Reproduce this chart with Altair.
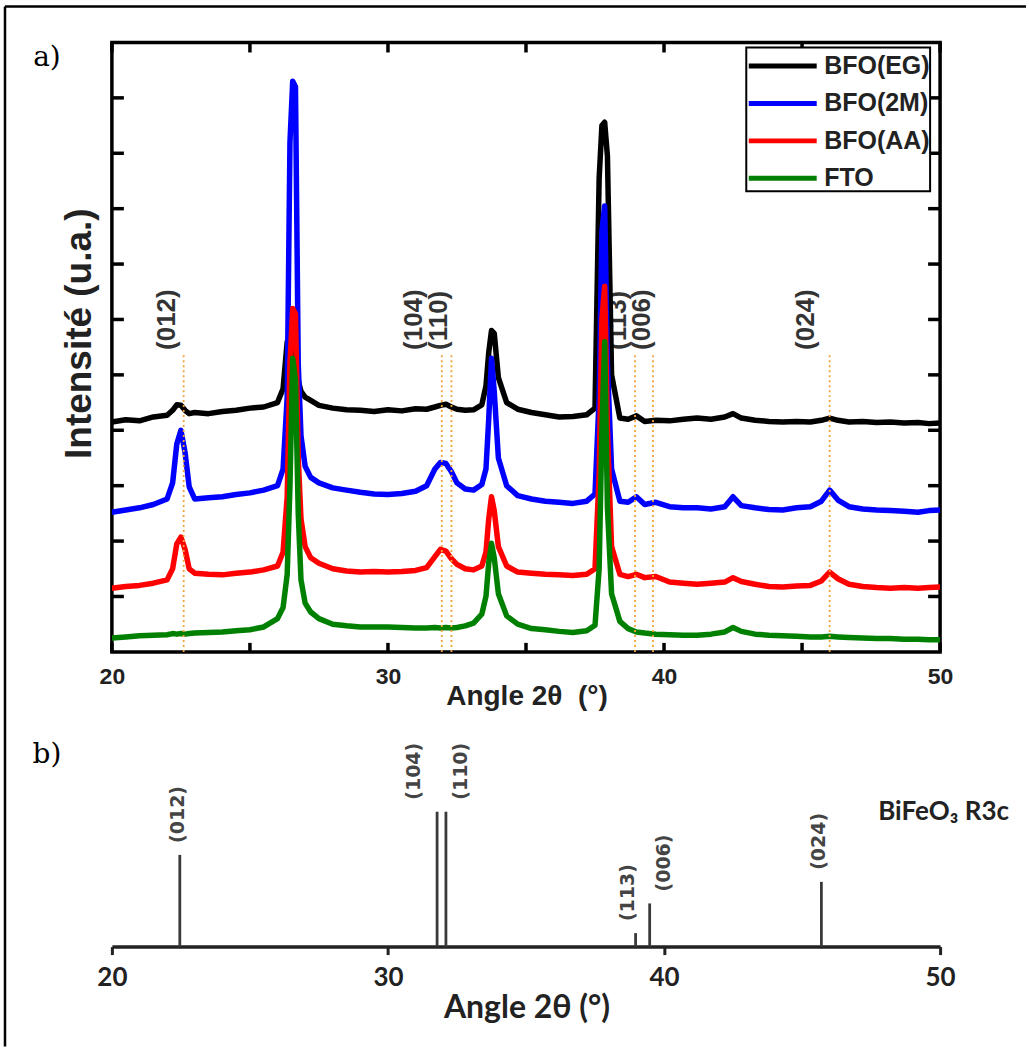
import altair as alt
import pandas as pd

# ---------------------------------------------------------------- data
# 2-theta grid shared by the four diffractograms (finer around reflections)
two_theta = [
    20.0, 20.5, 21.0, 21.5, 22.0, 22.2, 22.35, 22.5, 22.65, 22.8,
    23.0, 23.5, 24.0, 24.5, 25.0, 25.5, 26.0, 26.2, 26.35, 26.45,
    26.55, 26.65, 26.75, 26.85, 27.0, 27.2, 27.5, 28.0, 28.5, 29.0,
    29.5, 30.0, 30.5, 31.0, 31.4, 31.7, 31.9, 32.1, 32.3, 32.5,
    32.8, 33.1, 33.4, 33.55, 33.65, 33.75, 33.85, 34.0, 34.3, 34.7,
    35.2, 35.7, 36.2, 36.7, 37.2, 37.5, 37.65, 37.75, 37.85, 37.95,
    38.1, 38.4, 38.7, 39.0, 39.3, 39.7, 40.2, 40.7, 41.2, 41.7,
    42.2, 42.5, 42.8, 43.3, 43.8, 44.3, 44.8, 45.3, 45.7, 46.0,
    46.3, 46.7, 47.2, 47.7, 48.2, 48.7, 49.2, 49.6, 50.0,
]

# stacked intensities (arbitrary units, curves offset vertically)
int_eg = [
    4.15, 4.19, 4.17, 4.24, 4.27, 4.36, 4.46, 4.45, 4.36, 4.30,
    4.32, 4.30, 4.34, 4.36, 4.40, 4.42, 4.50, 4.75, 5.60, 5.62,
    5.50, 5.30, 4.90, 4.70, 4.60, 4.54, 4.45, 4.40, 4.37, 4.36,
    4.34, 4.37, 4.35, 4.39, 4.38, 4.42, 4.45, 4.47, 4.42, 4.38,
    4.36, 4.37, 4.46, 4.80, 5.40, 5.80, 5.75, 4.95, 4.50, 4.38,
    4.32, 4.28, 4.24, 4.25, 4.28, 4.40, 8.55, 9.50, 9.56, 8.95,
    5.00, 4.22, 4.20, 4.26, 4.16, 4.18, 4.17, 4.20, 4.22, 4.20,
    4.24, 4.30, 4.22, 4.18, 4.16, 4.15, 4.16, 4.15, 4.18, 4.22,
    4.18, 4.15, 4.16, 4.14, 4.15, 4.13, 4.14, 4.12, 4.13,
]
int_2m = [
    2.52, 2.56, 2.60, 2.66, 2.76, 3.05, 3.75, 4.00, 3.60, 2.98,
    2.76, 2.78, 2.80, 2.84, 2.87, 2.92, 3.00, 3.30, 4.60, 9.20,
    10.30, 10.20, 5.20, 3.90, 3.35, 3.15, 3.05, 2.96, 2.92, 2.88,
    2.85, 2.84, 2.86, 2.90, 3.00, 3.30, 3.42, 3.40, 3.25, 3.05,
    2.94, 2.92, 3.02, 3.30, 4.20, 5.30, 4.70, 3.50, 3.00, 2.82,
    2.76, 2.72, 2.70, 2.68, 2.72, 2.85, 4.60, 7.60, 8.05, 5.20,
    3.30, 2.72, 2.70, 2.80, 2.66, 2.70, 2.62, 2.60, 2.60, 2.58,
    2.62, 2.80, 2.64, 2.60, 2.57, 2.56, 2.60, 2.62, 2.72, 2.92,
    2.74, 2.62, 2.58, 2.56, 2.55, 2.54, 2.52, 2.55, 2.56,
]
int_aa = [
    1.15, 1.18, 1.20, 1.24, 1.30, 1.50, 1.95, 2.07, 1.85, 1.50,
    1.42, 1.40, 1.39, 1.42, 1.44, 1.48, 1.55, 1.80, 2.80, 5.20,
    6.20, 6.10, 3.50, 2.40, 1.90, 1.70, 1.60, 1.50, 1.46, 1.44,
    1.45, 1.44, 1.45, 1.47, 1.52, 1.72, 1.85, 1.82, 1.68, 1.58,
    1.50, 1.48, 1.55, 1.80, 2.40, 2.80, 2.55, 1.90, 1.55, 1.44,
    1.42, 1.40, 1.39, 1.38, 1.40, 1.50, 3.20, 6.00, 6.60, 4.00,
    1.90, 1.40, 1.36, 1.40, 1.34, 1.36, 1.26, 1.24, 1.22, 1.24,
    1.26, 1.34, 1.27, 1.22, 1.18, 1.17, 1.19, 1.20, 1.28, 1.44,
    1.32, 1.22, 1.18, 1.16, 1.15, 1.16, 1.15, 1.16, 1.17,
]
int_fto = [
    0.25, 0.27, 0.29, 0.30, 0.31, 0.33, 0.32, 0.33, 0.32, 0.33,
    0.34, 0.35, 0.36, 0.38, 0.40, 0.45, 0.60, 0.80, 1.40, 3.00,
    5.30, 4.90, 2.50, 1.30, 0.88, 0.72, 0.60, 0.50, 0.47, 0.45,
    0.45, 0.45, 0.44, 0.43, 0.43, 0.44, 0.43, 0.44, 0.43, 0.44,
    0.47, 0.52, 0.68, 1.00, 1.60, 1.96, 1.70, 1.05, 0.65, 0.50,
    0.42, 0.40, 0.37, 0.35, 0.38, 0.48, 1.50, 4.00, 5.60, 2.60,
    1.05, 0.55, 0.42, 0.36, 0.34, 0.32, 0.31, 0.30, 0.30, 0.32,
    0.36, 0.44, 0.37, 0.32, 0.30, 0.29, 0.28, 0.27, 0.27, 0.28,
    0.27, 0.26, 0.25, 0.24, 0.24, 0.23, 0.23, 0.22, 0.22,
]

samples = ["BFO(EG)", "BFO(2M)", "BFO(AA)", "FTO"]
sample_colors = ["#000000", "#0000ff", "#ff0000", "#008000"]

# BiFeO3 (R3c) reflections
hkl = ["(012)", "(104)", "(110)", "(113)", "(006)", "(024)"]
guide_pos = [22.6, 31.95, 32.3, 38.95, 39.6, 46.0]
guide_label_at = [22.0, 30.95, 31.85, 38.35, 39.2, 45.15]

ref_pos = [22.46, 31.78, 32.1, 38.97, 39.48, 45.7]
ref_int = [68, 100, 100, 10, 32, 48]
ref_label_at = [22.39, 30.95, 32.65, 38.68, 39.99, 45.62]
phase_label = "BiFeO\u2083 R3c"

x_tick_marks = [20, 25, 30, 35, 40, 45, 50]
x_tick_labels = [20, 30, 40, 50]
y_tick_marks = [1, 2, 3, 4, 5, 6, 7, 8, 9, 10]

# ---------------------------------------------------------------- styling
SANS = "Liberation Sans"
LATO = "Lato"
SERIF = "DejaVu Serif"
INK = "#222222"
W, HA, HB = 829, 610, 270

X_SCALE = alt.Scale(domain=[20, 50], nice=False, zero=False)
Y_SCALE_A = alt.Scale(domain=[0, 11], nice=False, zero=False)
Y_SCALE_B = alt.Scale(domain=[0, 200], nice=False, zero=False)

series = {s: v for s, v in zip(samples, [int_eg, int_2m, int_aa, int_fto])}
for s, v in series.items():
    assert len(v) == len(two_theta), s
traces = pd.DataFrame(
    [{"angle": a, "intensity": y, "sample": s}
     for s, v in series.items() for a, y in zip(two_theta, v)]
)
guides = pd.DataFrame({"pos": guide_pos, "label_at": guide_label_at, "hkl": hkl})
sticks = pd.DataFrame({"pos": ref_pos, "rel": ref_int, "label_at": ref_label_at, "hkl": hkl})
one = pd.DataFrame({"k": [0]})

# ---------------------------------------------------------------- panel a
x_axis_a = alt.Axis(
    values=x_tick_labels, format="d", title="Angle 2θ\u00a0\u00a0(°)",
    grid=False, domain=False, tickSize=0, labelFlush=False,
    labelFont=SANS, labelFontSize=23, labelFontWeight="bold", labelColor=INK,
    labelPadding=32, labelBaseline="alphabetic",
    titleFont=SANS, titleFontSize=28, titleFontWeight="bold", titleColor=INK,
    titleX=415, titleY=53, titleBaseline="alphabetic", titleAlign="center",
)
y_axis_a = alt.Axis(
    title="Intensité (u.a.)", labels=False, ticks=False, domain=False, grid=False,
    titleFont=SANS, titleFontSize=37, titleFontWeight="bold", titleColor=INK,
    titleX=-32, titleY=291, titleAngle=270, titleAlign="center", titleBaseline="middle",
)
XA = dict(scale=X_SCALE, axis=x_axis_a)
YA = dict(scale=Y_SCALE_A, axis=y_axis_a)

color = alt.Color(
    "sample:N",
    scale=alt.Scale(domain=samples, range=sample_colors),
    legend=alt.Legend(
        title=None, orient="none", legendX=635, legendY=5,
        symbolType="M-1,0H3.25", symbolSize=1024, symbolStrokeWidth=5,
        labelFont=SANS, labelFontSize=25, labelFontWeight="bold", labelColor=INK,
        labelOffset=41, rowPadding=5.5, padding=0,
        strokeColor="black", fillColor="white",
    ),
)

hkl_labels_a = alt.Chart(guides).mark_text(
    angle=270, align="left", baseline="middle",
    font=SANS, fontSize=26, fontWeight="bold", color="#333333",
).encode(
    x=alt.X("label_at:Q", **XA),
    y=alt.YDatum(5.45, **YA),
    text="hkl:N",
)

trace_layers = [
    alt.Chart(traces).transform_filter(alt.datum.sample == s)
    .mark_line(strokeWidth=5.5, strokeJoin="round", clip=True)
    .encode(
        x=alt.X("angle:Q", **XA),
        y=alt.Y("intensity:Q", **YA),
        color=color,
    )
    for s in samples
]

guide_rules = alt.Chart(guides).mark_rule(
    strokeDash=[2, 3], strokeWidth=1.8, color="#f2a33a"
).encode(
    x=alt.X("pos:Q", **XA),
    y=alt.YDatum(0, **YA),
    y2=alt.Y2Datum(5.36),
)

xt = pd.DataFrame({"t": x_tick_marks})
yt = pd.DataFrame({"t": y_tick_marks})
tick_style = dict(strokeWidth=3.5, color="black")
bottom_ticks = alt.Chart(xt).mark_rule(**tick_style).encode(
    x=alt.X("t:Q", **XA), y=alt.value(HA), y2=alt.value(HA - 9))
top_ticks = alt.Chart(xt).mark_rule(**tick_style).encode(
    x=alt.X("t:Q", **XA), y=alt.value(0), y2=alt.value(10))
left_ticks = alt.Chart(yt).mark_rule(**tick_style).encode(
    y=alt.Y("t:Q", **YA), x=alt.value(0), x2=alt.value(12))
right_ticks = alt.Chart(yt).mark_rule(**tick_style).encode(
    y=alt.Y("t:Q", **YA), x=alt.value(W), x2=alt.value(W - 12))

# outer figure frame (top and left edges) and panel letter
frame_top = alt.Chart(one).mark_rule(strokeWidth=2.5, color="black").encode(
    x=alt.value(-107), x2=alt.value(915), y=alt.value(-36))
frame_left = alt.Chart(one).mark_rule(strokeWidth=2.5, color="black").encode(
    x=alt.value(-107), y=alt.value(-36), y2=alt.value(1005))
letter_a = alt.Chart(one).mark_text(
    text="a)", font=SERIF, fontSize=28, align="center", baseline="middle", color="black"
).encode(x=alt.value(-65), y=alt.value(16))

panel_a = alt.layer(
    hkl_labels_a, *trace_layers, guide_rules,
    bottom_ticks, top_ticks, left_ticks, right_ticks,
    frame_top, frame_left, letter_a,
).properties(
    width=W, height=HA,
    view=alt.ViewBackground(stroke="black", strokeWidth=3.5),
)

# ---------------------------------------------------------------- panel b
x_axis_b = alt.Axis(
    values=x_tick_labels, format="d", title="Angle 2θ (°)",
    grid=False, domain=True, domainColor=INK, domainWidth=3.5,
    ticks=True, tickColor=INK, tickWidth=3, tickSize=8, labelFlush=False,
    labelFont=LATO, labelFontSize=26, labelFontWeight="bold", labelColor=INK,
    labelPadding=31, labelBaseline="alphabetic",
    titleFont=LATO, titleFontSize=32, titleFontWeight="bold", titleColor=INK,
    titleX=415, titleY=71, titleBaseline="alphabetic", titleAlign="center",
)
XB = dict(scale=X_SCALE, axis=x_axis_b)
YB = dict(scale=Y_SCALE_B, axis=None)

stick_rules = alt.Chart(sticks).mark_rule(strokeWidth=2.8, color="#3a3a3a").encode(
    x=alt.X("pos:Q", **XB),
    y=alt.Y("rel:Q", **YB),
    y2=alt.Y2Datum(0),
)
stick_labels = alt.Chart(sticks).mark_text(
    angle=270, align="left", baseline="middle", dx=12,
    font="DejaVu Sans", fontSize=19, fontWeight="bold", color="#444444",
).encode(
    x=alt.X("label_at:Q", **XB),
    y=alt.Y("rel:Q", **YB),
    text="hkl:N",
)
phase_text = alt.Chart(one).mark_text(
    text=phase_label, font=LATO, fontSize=26, fontWeight="bold", color=INK,
    align="right", baseline="alphabetic", dx=69,
).encode(x=alt.XDatum(50, **XB), y=alt.value(143))
letter_b = alt.Chart(one).mark_text(
    text="b)", font=SERIF, fontSize=28, align="center", baseline="middle", color="black"
).encode(x=alt.value(-65), y=alt.value(78))

panel_b = alt.layer(stick_rules, stick_labels, phase_text, letter_b).properties(
    width=W, height=HB,
    view=alt.ViewBackground(strokeWidth=0),
)

chart = alt.vconcat(panel_a, panel_b, spacing=25, bounds="flush").properties(
    padding={"left": 2, "top": 3, "right": 0, "bottom": 0},
    background="white",
).configure_view(stroke="transparent").configure_legend(strokeWidth=2)

chart.save("out.html", embed_options={"renderer": "svg", "actions": False})
